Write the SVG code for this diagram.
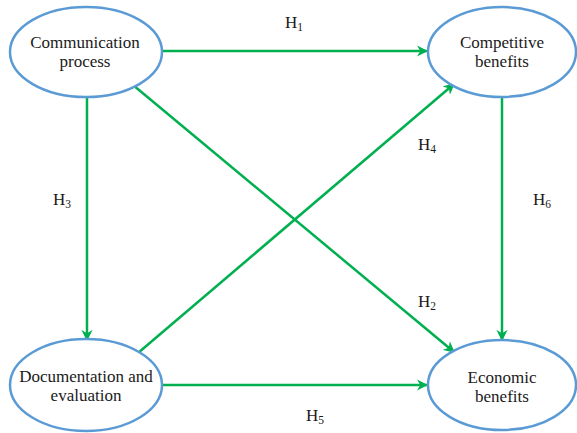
<svg xmlns="http://www.w3.org/2000/svg" width="577" height="433" viewBox="0 0 577 433">
  <style>
    text { font-family: "Liberation Serif", "Times New Roman", serif; fill: #1a1a1a; }
    .node { fill: #ffffff; stroke: #5B9BD5; stroke-width: 2.5; }
    .lbl { font-size: 17px; text-anchor: middle; }
    .h { font-size: 17px; }
    .sub { font-size: 11.5px; }
    .edge { stroke: #00B050; stroke-width: 2.5; fill: none; marker-end: url(#arrow); }
  </style>
  <defs>
    <marker id="arrow" viewBox="0 0 10 10" refX="9" refY="5" markerWidth="4.5" markerHeight="4.5" orient="auto" markerUnits="strokeWidth">
      <path d="M0,0 L10,5 L0,10 L3,5 Z" fill="#00B050"/>
    </marker>
  </defs>
  <rect width="577" height="433" fill="#ffffff"/>

  <g id="connectors">
    <line class="edge" x1="163" y1="51" x2="427" y2="51"/>
    <line class="edge" x1="87" y1="97" x2="87" y2="340"/>
    <line class="edge" x1="502" y1="97" x2="502" y2="340"/>
    <line class="edge" x1="162" y1="385" x2="427" y2="385"/>
    <line class="edge" x1="133" y1="85" x2="454" y2="352"/>
    <line class="edge" x1="138" y1="353" x2="454" y2="84"/>
  </g>

  <g id="labels">
    <text class="h" x="285" y="28">H<tspan class="sub" dy="3">1</tspan></text>
    <text class="h" x="418" y="307">H<tspan class="sub" dy="3">2</tspan></text>
    <text class="h" x="53" y="205">H<tspan class="sub" dy="3">3</tspan></text>
    <text class="h" x="418" y="150">H<tspan class="sub" dy="3">4</tspan></text>
    <text class="h" x="306" y="421">H<tspan class="sub" dy="3">5</tspan></text>
    <text class="h" x="533" y="205">H<tspan class="sub" dy="3">6</tspan></text>
  </g>

  <g id="communication-process">
    <ellipse class="node" cx="86" cy="52" rx="76" ry="45"/>
    <text class="lbl" x="85" y="48">Communication</text>
    <text class="lbl" x="85" y="67">process</text>
  </g>

  <g id="competitive-benefits">
    <ellipse class="node" cx="502" cy="52" rx="74" ry="45"/>
    <text class="lbl" x="502" y="48">Competitive</text>
    <text class="lbl" x="502" y="67">benefits</text>
  </g>

  <g id="documentation-evaluation">
    <ellipse class="node" cx="86" cy="385" rx="76" ry="46"/>
    <text class="lbl" x="86" y="382">Documentation and</text>
    <text class="lbl" x="86" y="401">evaluation</text>
  </g>

  <g id="economic-benefits">
    <ellipse class="node" cx="502" cy="385" rx="74" ry="45"/>
    <text class="lbl" x="502" y="383">Economic</text>
    <text class="lbl" x="502" y="402">benefits</text>
  </g>
</svg>
